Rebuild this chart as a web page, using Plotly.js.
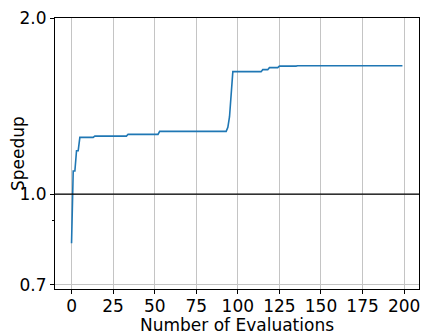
<!DOCTYPE html>
<html>
<head>
<meta charset="utf-8">
<script src="https://cdn.plot.ly/plotly-3.0.1.min.js"></script>
<style>html,body{margin:0;padding:0;background:#fff;}#chart{width:422px;height:335px;}</style>
</head>
<body>
<div id="chart"></div>
<script>
// Best speedup found so far, at the evaluations where it changes
const evaluations = [0, 1, 2, 3, 4, 5, 13, 14, 33, 34, 52, 53, 93, 94, 95, 96, 97, 114, 115, 118, 119, 124, 125, 135, 136, 199];
const speedup = [0.824, 1.095, 1.095, 1.186, 1.186, 1.25, 1.25, 1.256, 1.256, 1.265, 1.265, 1.28, 1.28, 1.30, 1.356, 1.50, 1.619, 1.619, 1.632, 1.632, 1.645, 1.645, 1.655, 1.655, 1.657, 1.657];
const xTicks = [0, 25, 50, 75, 100, 125, 150, 175, 200];
const yTicks = [0.7, 1.0, 2.0];
const yTickText = ["0.7", "1.0", "2.0"];
const yMinorTicks = [0.9];
const baseline = 1.0;
const xTitle = "Number of Evaluations";
const yTitle = "Speedup";

const font = {family: "DejaVu Sans", size: 17, color: "#000"};

Plotly.newPlot("chart", [{
  x: evaluations,
  y: speedup,
  type: "scatter",
  mode: "lines",
  line: {color: "#1f77b4", width: 1.6},
  hoverinfo: "skip"
}], {
  width: 422, height: 335,
  margin: {l: 54.5, r: 3, t: 17.5, b: 46, pad: 0},
  paper_bgcolor: "#fff", plot_bgcolor: "#fff",
  font: font,
  showlegend: false,
  xaxis: {
    range: [-9.95, 208.95],
    tickmode: "array", tickvals: xTicks,
    ticks: "outside", ticklen: 4, tickwidth: 1, tickcolor: "#000",
    ticklabelstandoff: -2,
    showgrid: true, gridcolor: "#c4c4c4", gridwidth: 1,
    zeroline: false,
    showline: true, mirror: true, linecolor: "#000", linewidth: 1,
    tickfont: font,
    automargin: false
  },
  yaxis: {
    type: "log",
    range: [Math.log10(0.688), Math.log10(2.0)],
    tickmode: "array", tickvals: yTicks, ticktext: yTickText,
    ticks: "outside", ticklen: 4, tickwidth: 1, tickcolor: "#000",
    minor: {tickmode: "array", tickvals: yMinorTicks, ticks: "outside", ticklen: 2, tickwidth: 1, tickcolor: "#000", showgrid: false},
    showgrid: true, gridcolor: "#c4c4c4", gridwidth: 1,
    zeroline: false,
    showline: true, mirror: true, linecolor: "#000", linewidth: 1,
    tickfont: font,
    automargin: false
  },
  annotations: [
    {text: xTitle, xref: "paper", yref: "paper", x: 0.5, y: -0.131, xanchor: "center", yanchor: "middle", showarrow: false, font: font},
    {text: yTitle, xref: "paper", yref: "paper", x: -0.103, y: 0.5, xanchor: "center", yanchor: "middle", textangle: -90, showarrow: false, font: font}
  ],
  shapes: [{
    type: "line", xref: "paper", x0: 0, x1: 1, yref: "y", y0: baseline, y1: baseline,
    line: {color: "#000", width: 1.2}, layer: "above"
  }]
}, {displayModeBar: false, staticPlot: true});
</script>
</body>
</html>
